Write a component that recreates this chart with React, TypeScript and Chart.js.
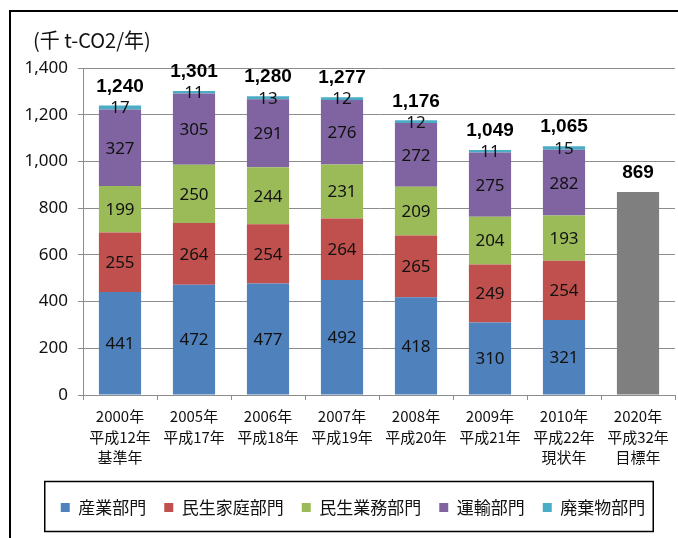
import React, { useEffect, useRef } from "react";
import { Chart, registerables } from "chart.js";

Chart.register(...registerables);

const categories: string[][] = [
  ["2000年", "平成12年", "基準年"],
  ["2005年", "平成17年"],
  ["2006年", "平成18年"],
  ["2007年", "平成19年"],
  ["2008年", "平成20年"],
  ["2009年", "平成21年"],
  ["2010年", "平成22年", "現状年"],
  ["2020年", "平成32年", "目標年"],
];

const sangyo: (number | null)[] = [441, 472, 477, 492, 418, 310, 321, null];
const minseiKatei: (number | null)[] = [255, 264, 254, 264, 265, 249, 254, null];
const minseiGyomu: (number | null)[] = [199, 250, 244, 231, 209, 204, 193, null];
const unyu: (number | null)[] = [327, 305, 291, 276, 272, 275, 282, null];
const haikibutsu: (number | null)[] = [17, 11, 13, 12, 12, 11, 15, null];
const target: (number | null)[] = [null, null, null, null, null, null, null, 869];
const totals: number[] = [1240, 1301, 1280, 1277, 1176, 1049, 1065, 869];

const seriesNames = ["産業部門", "民生家庭部門", "民生業務部門", "運輸部門", "廃棄物部門"];
const seriesColors = ["#4F81BD", "#C0504D", "#9BBB59", "#8064A2", "#4BACC6"];
const targetColor = "#7F7F7F";

const yTicks = { min: 0, max: 1400, step: 200 };

const CJK = "'Noto Sans CJK JP', 'Noto Sans', sans-serif";

const fmt = (v: number) => v.toLocaleString("en-US");

const labelPlugin = {
  id: "valueLabels",
  afterDatasetsDraw(chart: any) {
    const ctx = chart.ctx;
    ctx.save();
    ctx.textAlign = "center";
    ctx.textBaseline = "middle";
    ctx.fillStyle = "#111";
    ctx.font = "17px 'Noto Sans', sans-serif";
    for (let d = 0; d < 5; d++) {
      const meta = chart.getDatasetMeta(d);
      const data = chart.data.datasets[d].data;
      meta.data.forEach((el: any, i: number) => {
        if (data[i] == null) return;
        const cy = (el.y + el.base) / 2;
        ctx.fillText(String(data[i]), el.x, cy + 1);
      });
    }
    ctx.font = "bold 19px 'Liberation Sans', Arial, sans-serif";
    ctx.fillStyle = "#000";
    categories.forEach((_, i) => {
      let top = Infinity;
      let x = 0;
      chart.data.datasets.forEach((ds: any, d: number) => {
        if (ds.data[i] == null) return;
        const el = chart.getDatasetMeta(d).data[i];
        if (el.y < top) {
          top = el.y;
          x = el.x;
        }
      });
      if (top !== Infinity) ctx.fillText(fmt(totals[i]), x, top - 19);
    });
    ctx.restore();
  },
};

const legendBoxPlugin = {
  id: "legendBox",
  afterDraw(chart: any) {
    const lg = chart.legend;
    if (!lg || !lg.legendHitBoxes || !lg.legendHitBoxes.length) return;
    const hb = lg.legendHitBoxes;
    const first = hb[0];
    const last = hb[hb.length - 1];
    const cy = first.top + first.height / 2;
    const ctx = chart.ctx;
    ctx.save();
    ctx.strokeStyle = "#000";
    ctx.lineWidth = 1.5;
    const left = first.left - 16;
    const right = last.left + last.width + 8;
    ctx.strokeRect(left, cy - 26, right - left, 50);
    ctx.restore();
  },
};

export default function App() {
  const ref = useRef<HTMLCanvasElement | null>(null);
  useEffect(() => {
    if (!ref.current) return;
    const datasets: any[] = [sangyo, minseiKatei, minseiGyomu, unyu, haikibutsu].map((arr, k) => ({
      label: seriesNames[k],
      data: arr,
      backgroundColor: seriesColors[k],
      borderWidth: 0,
      stack: "s",
    }));
    datasets.push({
      label: "目標",
      data: target,
      backgroundColor: targetColor,
      borderWidth: 0,
      stack: "s",
    });
    const chart = new Chart(ref.current, {
      type: "bar",
      data: { labels: categories, datasets },
      options: {
        animation: false,
        responsive: false,
        maintainAspectRatio: false,
        datasets: { bar: { categoryPercentage: 1, barPercentage: 0.57 } },
        layout: { padding: { left: 31, right: 3, top: 68, bottom: 12 } },
        plugins: {
          tooltip: { enabled: false },
          title: { display: false },
          legend: {
            display: true,
            position: "bottom",
            labels: {
              filter: (item: any) => item.datasetIndex < 5,
              boxWidth: 9,
              boxHeight: 9,
              padding: 18,
              color: "#111",
              font: { family: CJK, size: 17 },
            },
          },
        },
        scales: {
          x: {
            stacked: true,
            grid: {
              display: true,
              drawOnChartArea: false,
              drawTicks: true,
              tickLength: 5,
              offset: true,
              color: "#8c8c8c",
            },
            border: { color: "#8c8c8c" },
            ticks: {
              color: "#111",
              padding: 6,
              maxRotation: 0,
              autoSkip: false,
              font: { family: CJK, size: 15, lineHeight: 1.38 },
            },
            afterFit: (s: any) => {
              s.height = 86;
            },
          },
          y: {
            stacked: true,
            min: yTicks.min,
            max: yTicks.max,
            grid: { color: "#8c8c8c", tickLength: 5 },
            border: { color: "#8c8c8c" },
            ticks: {
              stepSize: yTicks.step,
              color: "#111",
              padding: 10,
              font: { family: "'Noto Sans', sans-serif", size: 17 },
              callback: (v: any) => fmt(Number(v)),
            },
            afterFit: (s: any) => {
              s.width = 52;
              s._computeLabelArea = () => undefined;
            },
          },
        },
      },
      plugins: [labelPlugin, legendBoxPlugin],
    });
    return () => chart.destroy();
  }, []);

  return (
    <div style={{ position: "fixed", left: 0, top: 0, width: 678, height: 538, background: "#fff", overflow: "hidden" }}>
      <div
        style={{
          position: "absolute",
          left: 9,
          top: 10,
          width: 720,
          height: 600,
          borderTop: "2px solid #000",
          borderLeft: "2px solid #000",
        }}
      />
      <canvas ref={ref} width={678} height={538} style={{ position: "absolute", left: 0, top: 0 }} />
      <div
        style={{
          position: "absolute",
          left: 33,
          top: 26,
          fontFamily: CJK,
          fontSize: 20,
          color: "#111",
          lineHeight: "28px",
          whiteSpace: "nowrap",
        }}
      >
        (千 t-CO2/年)
      </div>
    </div>
  );
}
